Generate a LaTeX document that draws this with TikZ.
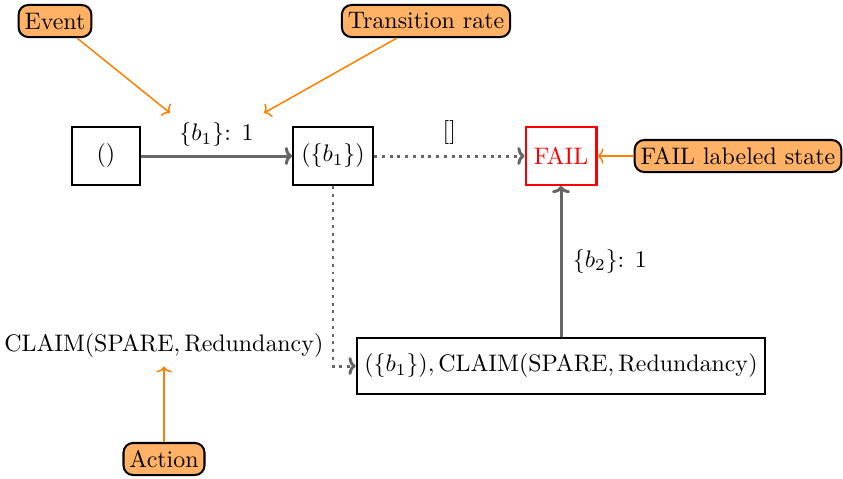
\documentclass[tikz,border=0pt]{standalone}
\usetikzlibrary{arrows.meta}
\definecolor{edgegray}{gray}{0.4}
\tikzset{
  state/.style={draw=black, line width=0.84pt, minimum height=24.3pt, inner sep=3pt, fill=white},
  failstate/.style={state, draw=red, text=red},
  note/.style={draw=black, line width=0.84pt, rounded corners=4pt, fill=orange!60, minimum height=13.4pt, inner sep=2.5pt},
  trans/.style={draw=edgegray, line width=1.25pt, -{To[length=3pt,width=7.5pt]}},
  idle/.style={draw=edgegray, line width=1.25pt, dotted, -{To[length=3pt,width=7.5pt]}},
  pointer/.style={draw=orange, line width=0.63pt, -{To[length=2.5pt,width=6.5pt]}},
}
\begin{document}
\begin{tikzpicture}[x=0.4184pt, y=-0.4184pt]
  \useasboundingbox (0,0) rectangle (843,478);

  % states
  \node[state, minimum width=28.5pt] (s0) at (106,156) {$()$};
  \node[state, minimum width=33.5pt] (s1) at (333,156) {$(\{b_1\})$};
  \node[failstate, minimum width=29.7pt] (fail) at (561,156) {FAIL};
  \node[state, minimum width=171pt, minimum height=23.8pt] (s2) at (561,366)
    {$(\{b_1\}), \mathrm{CLAIM}(\mathrm{SPARE}, \mathrm{Redundancy})$};

  % action label on the dotted edge
  \node (act) at (164,346) {$\mathrm{CLAIM}(\mathrm{SPARE}, \mathrm{Redundancy})$};

  % transitions
  \draw[trans] (s0) -- node[above, yshift=0pt] (r1) {$\{b_1\}$: $1$} (s1);
  \draw[idle] (s1) -- node[above, yshift=1pt] (e1) {$[]$} (fail);
  \coordinate (bend) at (s1.south |- s2.west);
  \draw[idle] (s1.south) -- (bend) -- (s2.west);
  \draw[trans] (s2.north) -- node[right, xshift=1pt] {$\{b_2\}$: $1$} (fail.south);

  % annotations
  \node[note] (nEvent) at (55,21) {Event};
  \node[note] (nRate) at (426,21) {Transition rate};
  \node[note] (nFail) at (738,156) {FAIL labeled state};
  \node[note] (nAction) at (164,459) {Action};

  \coordinate (pEvent) at (170,113);
  \coordinate (pRate) at (264,113);
  \draw[pointer] (nEvent.south) ++(22,0) -- (pEvent);
  \draw[pointer] (nRate.south) ++(-29,0) -- (pRate);
  \draw[pointer] (nFail.west) -- (fail.east);
  \draw[pointer] (nAction.north) -- (act.south);
\end{tikzpicture}
\end{document}
